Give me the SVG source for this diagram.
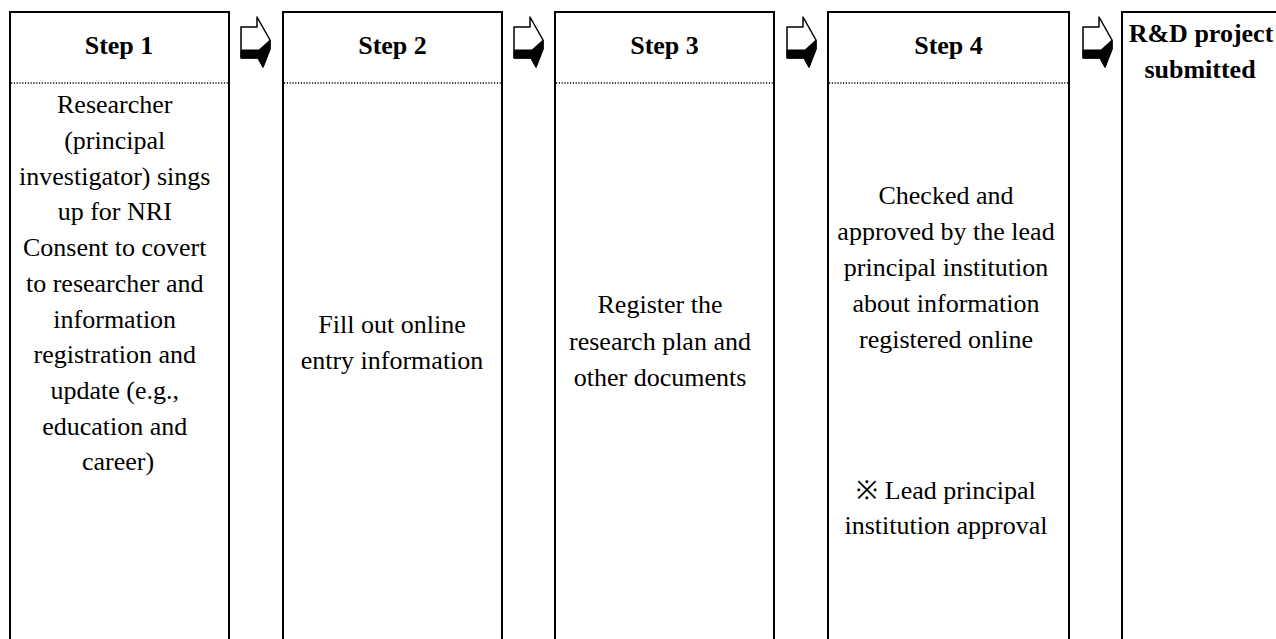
<svg xmlns="http://www.w3.org/2000/svg" width="1276" height="639" viewBox="0 0 1276 639">
<style>
.box{fill:#fff;stroke:#000;stroke-width:2}
.dot{stroke:#000;stroke-width:1.5;stroke-dasharray:1.2 1.6;fill:none}
.hd{font-family:"Liberation Serif","Times New Roman",serif;font-weight:bold;font-size:26px;text-anchor:middle;fill:#000}
.tx{font-family:"Liberation Serif","Times New Roman",serif;font-size:26px;text-anchor:middle;fill:#000}
.af{fill:#fff;stroke:#000;stroke-width:1.5;stroke-linejoin:round}
.ab{fill:#000;stroke:#000;stroke-width:1;stroke-linejoin:round}
</style>
<defs>
<g id="arrow">
<path class="af" d="M241,27 H257 V17 L270,40 V49 L263,67 L258,58 H241 Z"/>
<path class="ab" d="M241,50 H259 L270,40 V49 L263,67 L258,58 H241 Z"/>
</g>
</defs>
<rect width="1276" height="639" fill="#fff"/>
<g id="connectors">
<use href="#arrow"/>
<use href="#arrow" transform="translate(273,0)"/>
<use href="#arrow" transform="translate(546,0)"/>
<use href="#arrow" transform="translate(842,0)"/>
</g>
<g id="step1">
<rect class="box" x="10" y="12" width="219" height="700"/>
<line class="dot" x1="11" y1="83" x2="228" y2="83"/>
<text class="hd" x="119" y="54">Step 1</text>
<text class="tx" x="118">
<tspan x="118" y="113">Researcher</tspan>
<tspan x="118" y="149">(principal</tspan>
<tspan x="118" y="185">investigator) sings</tspan>
<tspan x="118" y="220">up for NRI</tspan>
<tspan x="118" y="256">Consent to covert</tspan>
<tspan x="118" y="292">to researcher and</tspan>
<tspan x="118" y="328">information</tspan>
<tspan x="118" y="363">registration and</tspan>
<tspan x="118" y="399">update (e.g.,</tspan>
<tspan x="118" y="435">education and</tspan>
<tspan x="118" y="470">career)</tspan>
</text>
</g>
<g id="step2">
<rect class="box" x="283" y="12" width="219" height="700"/>
<line class="dot" x1="284" y1="83" x2="501" y2="83"/>
<text class="hd" x="392.5" y="54">Step 2</text>
<text class="tx"><tspan x="392" y="333">Fill out online</tspan><tspan x="392" y="369">entry information</tspan></text>
</g>
<g id="step3">
<rect class="box" x="555" y="12" width="219" height="700"/>
<line class="dot" x1="556" y1="83" x2="773" y2="83"/>
<text class="hd" x="664.5" y="54">Step 3</text>
<text class="tx"><tspan x="660" y="313">Register the</tspan><tspan x="660" y="350">research plan and</tspan><tspan x="660" y="386">other documents</tspan></text>
</g>
<g id="step4">
<rect class="box" x="828" y="12" width="241" height="700"/>
<line class="dot" x1="829" y1="83" x2="1068" y2="83"/>
<text class="hd" x="948.5" y="54">Step 4</text>
<text class="tx"><tspan x="946" y="204">Checked and</tspan><tspan x="946" y="240">approved by the lead</tspan><tspan x="946" y="276">principal institution</tspan><tspan x="946" y="312">about information</tspan><tspan x="946" y="348">registered online</tspan><tspan x="946" y="499">※ Lead principal</tspan><tspan x="946" y="534">institution approval</tspan></text>
</g>
<g id="submitted">
<rect class="box" x="1122" y="12" width="300" height="700"/>
<text class="hd"><tspan x="1201" y="42">R&amp;D project</tspan><tspan x="1200" y="78">submitted</tspan></text>
</g>
</svg>
